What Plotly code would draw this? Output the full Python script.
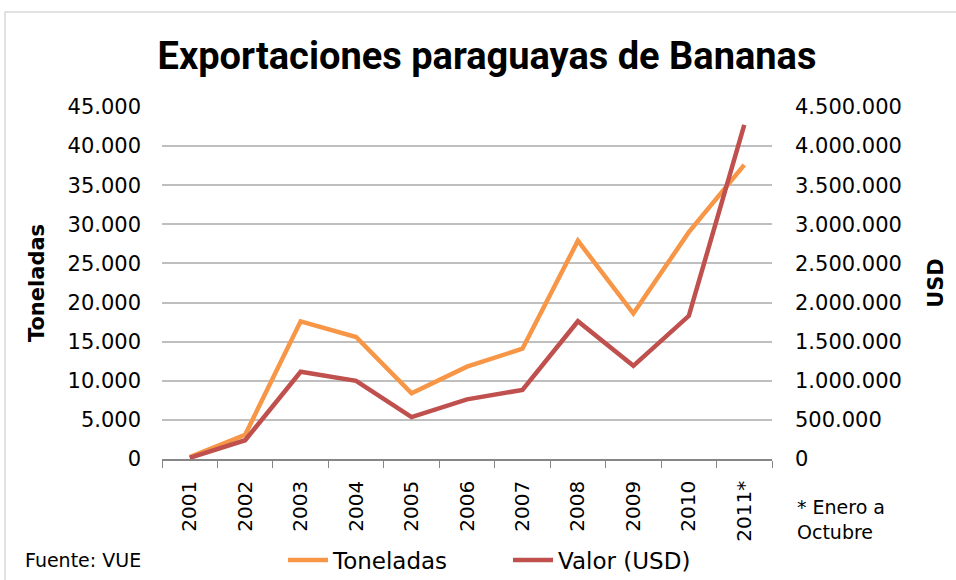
import plotly.graph_objects as go

years = ["2001", "2002", "2003", "2004", "2005", "2006", "2007", "2008", "2009", "2010", "2011*"]
toneladas = [250, 3100, 17600, 15600, 8400, 11800, 14100, 27900, 18600, 29000, 37600]
valor_usd = [15000, 240000, 1115000, 1000000, 536000, 763000, 883000, 1761000, 1191000, 1830000, 4270000]

left_ticks = [0, 5000, 10000, 15000, 20000, 25000, 30000, 35000, 40000, 45000]
left_labels = ["0", "5.000", "10.000", "15.000", "20.000", "25.000", "30.000", "35.000", "40.000", "45.000"]
right_ticks = [0, 500000, 1000000, 1500000, 2000000, 2500000, 3000000, 3500000, 4000000, 4500000]
right_labels = ["0", "500.000", "1.000.000", "1.500.000", "2.000.000", "2.500.000",
                "3.000.000", "3.500.000", "4.000.000", "4.500.000"]

TITLE_FONT = "Roboto, DejaVu Sans, sans-serif"
BODY = "DejaVu Sans, sans-serif"

W, H = 956, 580
L, R, T, B = 162, 184, 107, 121
pw, ph = W - L - R, H - T - B

fig = go.Figure()
fig.add_trace(go.Scatter(x=years, y=toneladas, name="Toneladas", mode="lines",
                         line=dict(color="#F79646", width=4.5), yaxis="y"))
fig.add_trace(go.Scatter(x=years, y=valor_usd, name="Valor (USD)", mode="lines",
                         line=dict(color="#C0504D", width=4.5), yaxis="y2"))

def px(x):
    return (x - L) / pw

def py(y):
    return 1 - (y - T) / ph

fig.update_layout(
    width=W, height=H,
    margin=dict(l=L, r=R, t=T, b=B, autoexpand=False),
    paper_bgcolor="white", plot_bgcolor="white",
    title=dict(text="<b>Exportaciones paraguayas de Bananas</b>",
               x=487 / W, xanchor="center",
               y=1 - 56 / H, yanchor="middle",
               font=dict(family=TITLE_FONT, size=38, color="black")),
    xaxis=dict(type="category", range=[-0.5, len(years) - 0.5], tickangle=-90,
               tickson="boundaries", ticks="outside", automargin=False,
               ticklen=7, tickcolor="#868686", showline=True, linecolor="#868686", linewidth=1.5,
               showgrid=False, tickfont=dict(family=BODY, size=20, color="black"),
               ticklabelstandoff=12),
    yaxis=dict(range=[0, 45000], tickvals=left_ticks, ticktext=left_labels, automargin=False,
               showgrid=True, gridcolor="#BFBFBF", gridwidth=1.5, zeroline=False,
               showline=False, ticks="", tickfont=dict(family=BODY, size=21, color="black"),
               ticklabelstandoff=20,
               title=dict(text="<b>Toneladas</b>", font=dict(family=BODY, size=21, color="black"),
                          standoff=17)),
    yaxis2=dict(range=[0, 4500000], tickvals=right_ticks, ticktext=right_labels, automargin=False,
                overlaying="y", side="right", showgrid=False, zeroline=False, showline=False,
                ticks="", tickfont=dict(family=BODY, size=21, color="black"),
                ticklabelstandoff=22,
                title=dict(text="<b>USD</b>", font=dict(family=BODY, size=21, color="black"),
                           standoff=27)),
    showlegend=True,
    legend=dict(orientation="h", xref="container", yref="container",
                x=508 / W, xanchor="center", y=1 - 560 / H, yanchor="middle",
                font=dict(family=BODY, size=23, color="black"), bgcolor="rgba(0,0,0,0)",
                itemwidth=40, tracegroupgap=0, entrywidth=170),
)

fig.add_annotation(text="Fuente: VUE", xref="paper", yref="paper", x=px(23), y=py(560),
                   xanchor="left", yanchor="middle", showarrow=False,
                   font=dict(family=BODY, size=19, color="black"))
fig.add_annotation(text="* Enero a<br>Octubre", xref="paper", yref="paper", x=px(795), y=py(519),
                   xanchor="left", yanchor="middle", align="left", showarrow=False,
                   font=dict(family=BODY, size=19, color="black"))
fig.add_shape(type="rect", xref="paper", yref="paper", x0=px(5), x1=px(960), y0=py(590), y1=py(12),
              line=dict(color="#D9D9D9", width=1.5), fillcolor="rgba(0,0,0,0)", layer="below")

fig.write_html("out.html", config={"displayModeBar": False},
               post_script="document.body.style.margin='0';document.body.style.overflow='hidden';")
